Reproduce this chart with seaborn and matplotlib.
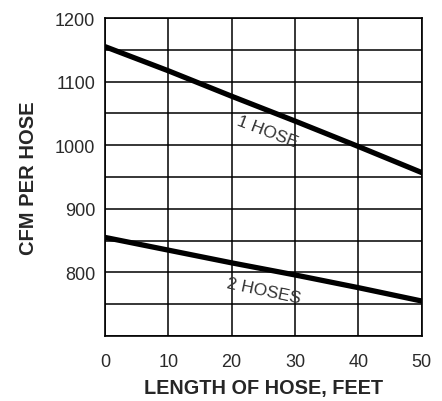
import pandas as pd
import matplotlib.pyplot as plt
import seaborn as sns

# data
length_ft = [0, 10, 20, 30, 40, 50]
cfm_1_hose = [1155, 1117, 1077, 1038, 998, 957]
cfm_2_hoses = [855, 835, 815, 796, 776, 755]

data = pd.DataFrame({
    'Length': length_ft * 2,
    'CFM': cfm_1_hose + cfm_2_hoses,
    'Hoses': ['1 HOSE'] * len(length_ft) + ['2 HOSES'] * len(length_ft),
})

sns.set_style('white')
plt.rcParams['font.family'] = ['Liberation Sans', 'DejaVu Sans']

fig = plt.figure(figsize=(4.42, 4.02), dpi=100)
ax = fig.add_axes([0.2376, 0.1617, 0.954 - 0.2376, 0.9527 - 0.1617])

sns.lineplot(data=data, x='Length', y='CFM', hue='Hoses',
             palette=['black', 'black'], linewidth=3.8, legend=False, ax=ax,
             zorder=3)

ax.set_xlim(0, 50)
ax.set_ylim(700, 1200)
ax.set_xticks(range(0, 51, 10))
ax.set_yticks(range(700, 1201, 50))
ax.set_yticklabels(['' if v % 100 or v == 700 else str(v)
                    for v in range(700, 1201, 50)])
ax.grid(True, color='black', linewidth=1.1)
ax.tick_params(axis='both', length=0, labelsize=13, labelcolor='#2a2a2a')
ax.tick_params(axis='x', pad=12)
ax.tick_params(axis='y', pad=7)
for s in ax.spines.values():
    s.set_color('black')
    s.set_linewidth(1.2)

ax.set_xlabel('LENGTH OF HOSE, FEET', fontsize=14.3, fontweight='bold', labelpad=6)
ax.set_ylabel('CFM PER HOSE', fontsize=14.5, fontweight='bold', labelpad=12)

ax.text(25.6, 1022, '1 HOSE', rotation=-21, ha='center', va='center',
        fontsize=12.5, color='#333333')
ax.text(25.1, 771, '2 HOSES', rotation=-12, ha='center', va='center',
        fontsize=12.5, color='#333333')

fig.savefig('out.png', dpi=100)
